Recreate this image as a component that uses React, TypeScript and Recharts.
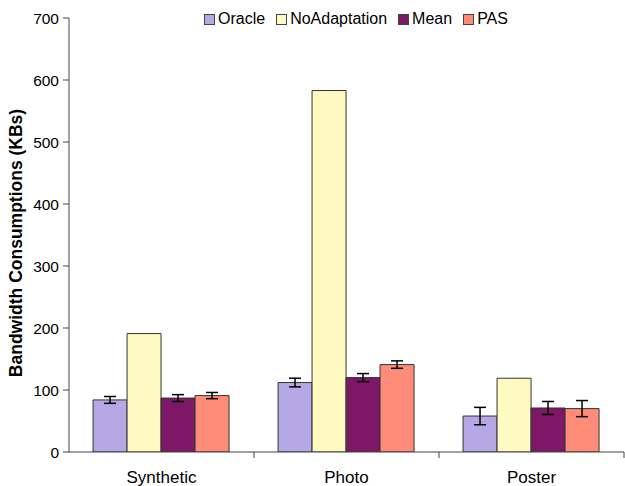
import React from "react";
import { BarChart, Bar, XAxis, YAxis, Legend, ErrorBar } from "recharts";

const categories = ["Synthetic", "Photo", "Poster"];
const oracle = [84, 112, 58];
const oracleErr = [5.5, 7, 14];
const noAdaptation = [191, 583, 119];
const mean = [87, 120, 71];
const meanErr = [5.5, 6.5, 10.5];
const pas = [91, 141, 70];
const pasErr = [5, 6, 13];
const yTicks = [0, 100, 200, 300, 400, 500, 600, 700];

const seriesNames = ["Oracle", "NoAdaptation", "Mean", "PAS"];
const seriesColors = ["#B4A9E4", "#FFFABF", "#7E1866", "#FF8C79"];

const data = categories.map((c, i) => ({
  name: c,
  Oracle: oracle[i],
  OracleErr: oracleErr[i],
  NoAdaptation: noAdaptation[i],
  Mean: mean[i],
  MeanErr: meanErr[i],
  PAS: pas[i],
  PASErr: pasErr[i],
}));

const FONT = "'Liberation Sans', Arial, sans-serif";
const X_TICK_SIZE = 6;
const X_TICK_MARGIN = 13;

const XTick = (props: any) => {
  const { x, y, payload } = props;
  const off = payload && payload.offset ? payload.offset : 0;
  const axisY = y - X_TICK_SIZE - X_TICK_MARGIN;
  return (
    <g>
      <line x1={x + off} x2={x + off} y1={axisY} y2={axisY + X_TICK_SIZE} stroke="#444" strokeWidth={1} />
      <text x={x} y={y} dy="0.71em" textAnchor="middle" fontSize={17} fill="#000" fontFamily={FONT}>
        {payload.value}
      </text>
    </g>
  );
};

const LegendContent = () => (
  <div style={{ display: "flex", alignItems: "center", fontFamily: FONT, fontSize: 16, lineHeight: "18px", color: "#000", whiteSpace: "nowrap" }}>
    {seriesNames.map((n, i) => (
      <div key={n} style={{ display: "flex", alignItems: "center", marginRight: 11 }}>
        <span
          style={{
            display: "inline-block",
            width: 9,
            height: 9,
            background: seriesColors[i],
            border: "1px solid #444",
            marginRight: 3,
          }}
        />
        <span>{n}</span>
      </div>
    ))}
  </div>
);

const YLabel = (props: any) => {
  const vb = props.viewBox || {};
  const cx = 16;
  const cy = vb.y + vb.height / 2 + 8;
  return (
    <text
      x={cx}
      y={cy}
      transform={`rotate(-90, ${cx}, ${cy})`}
      textAnchor="middle"
      dominantBaseline="central"
      fontSize={17.5}
      fontWeight="bold"
      fontFamily={FONT}
      fill="#000"
    >
      Bandwidth Consumptions (KBs)
    </text>
  );
};

export default function App() {
  return (
    <div style={{ position: "absolute", left: 0, top: 0, background: "#fff" }}>
      <BarChart
        width={625}
        height={486}
        data={data}
        margin={{ top: 18, right: 1, bottom: 0, left: 0 }}
        barCategoryGap="13%"
        barGap={0}
      >
        <XAxis
          dataKey="name"
          height={34}
          tickLine={false}
          tickSize={X_TICK_SIZE}
          tickMargin={X_TICK_MARGIN}
          axisLine={{ stroke: "#444" }}
          tick={<XTick />}
          interval={0}
        />
        <YAxis
          width={69}
          domain={[0, 700]}
          ticks={yTicks}
          tickSize={6}
          tickMargin={4}
          axisLine={{ stroke: "#444" }}
          tickLine={{ stroke: "#444" }}
          tick={{ fontSize: 15.5, fill: "#000", fontFamily: FONT }}
          label={<YLabel />}
          allowDataOverflow
        />
        <Legend
          verticalAlign="middle"
          align="center"
          layout="horizontal"
          content={<LegendContent />}
          wrapperStyle={{ top: 10, left: 204, width: "auto" }}
        />
        <Bar dataKey="Oracle" fill={seriesColors[0]} stroke="#333" strokeWidth={1} isAnimationActive={false}>
          <ErrorBar dataKey="OracleErr" width={6} stroke="#000" strokeWidth={1.5} />
        </Bar>
        <Bar dataKey="NoAdaptation" fill={seriesColors[1]} stroke="#333" strokeWidth={1} isAnimationActive={false} />
        <Bar dataKey="Mean" fill={seriesColors[2]} stroke="#333" strokeWidth={1} isAnimationActive={false}>
          <ErrorBar dataKey="MeanErr" width={6} stroke="#000" strokeWidth={1.5} />
        </Bar>
        <Bar dataKey="PAS" fill={seriesColors[3]} stroke="#333" strokeWidth={1} isAnimationActive={false}>
          <ErrorBar dataKey="PASErr" width={6} stroke="#000" strokeWidth={1.5} />
        </Bar>
      </BarChart>
    </div>
  );
}
